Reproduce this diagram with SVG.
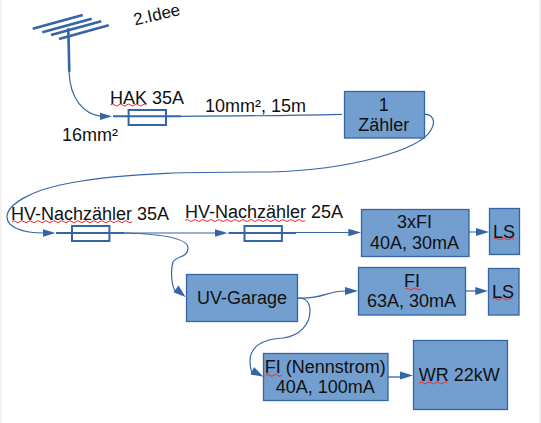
<svg xmlns="http://www.w3.org/2000/svg" width="541" height="423" viewBox="0 0 541 423">
<style>
.b{fill:#729fcf;stroke:#3465a4;stroke-width:1.3}
.t{font-family:"Liberation Sans",Arial,sans-serif;font-size:18px;fill:#111;text-anchor:middle}
.l{font-family:"Liberation Sans",Arial,sans-serif;font-size:18px;fill:#111}
.c{fill:none;stroke:#3465a4;stroke-width:1.2}
.f{fill:none;stroke:#3465a4;stroke-width:2}
.a{fill:none;stroke:#3465a4;stroke-width:2.6}
.s{fill:none;stroke:#ef2929;stroke-width:1}
.h{fill:#3465a4}
</style>
<rect width="541" height="423" fill="#fff"/>
<rect x="0" y="0" width="1.500" height="423" fill="#eee"/>
<rect x="539" y="0" width="2" height="423" fill="#eee"/>
<g id="connectors">
<path class="c" d="M69,71C70,100 84,114 101,116.300"/>
<path class="h" d="M112,116.300L100,112.700V120Z"/>
<path class="c" d="M181,116.300C240,116 290,115.500 342,114.300"/>
<path class="c" d="M424.700,114.300C433,114 436,122 431,130C420,150 350,170 270,172C200,172 130,172 70,183C30,190 7,205 7,217C7,227 22,233 44,233"/>
<path class="h" d="M55.500,233L43,229.300V236.700Z"/>
<path class="c" d="M124,233H216"/>
<path class="h" d="M227.500,233L215,229.300V236.700Z"/>
<path class="c" d="M124,233C160,234 188,238 188,248C188,258 176,256 173,262C170,272 172,288 176,292"/>
<path class="h" d="M185.500,297L173.500,292.200L178.500,285.500Z"/>
<path class="c" d="M296,232.500H349"/>
<path class="h" d="M361,232.500L348.300,228.800V236.200Z"/>
<path class="c" d="M469,232H477" style="stroke:#729fcf;stroke-width:1.600"/>
<path class="h" d="M489,232L476,228V236Z"/>
<path class="c" d="M298,298C325,299 325,291 346,291"/>
<path class="h" d="M358,291L345,287V295Z"/>
<path class="c" d="M466,291H476"/>
<path class="h" d="M488,291L475.300,287V295Z"/>
<path class="c" d="M298,298C307,298 310,304 310,311C310,324 300,336 283,338C262,339 250,347 250,361C250,366 251,370 252,373"/>
<path class="h" d="M263.500,376.800L250.500,374.500L254,367Z"/>
<path class="c" d="M388,377H401" style="stroke:#729fcf;stroke-width:2"/>
<path class="h" d="M413,375.500L400,371.500V379.500Z"/>
</g>
<g id="antenna">
<path class="a" d="M32.700,28.700L82.700,15M42.300,32.300L91.700,18.700M51,35L101.300,21.300M59,39L108.700,25.300"/>
<path class="a" d="M68.300,28.300L69.300,71.700"/>
<text transform="translate(135,25.500) rotate(-13)" font-family="Liberation Sans, Arial, sans-serif" font-size="17" fill="#111">2.Idee</text>
</g>
<g id="hak">
<path class="f" d="M113,116.300H181"/>
<rect x="128.600" y="110" width="37.400" height="15" class="f"/>
<text class="l" x="110" y="104">HAK 35A</text>
<path class="s" d="M110.500,105q2,-2 4,0t4,0t4,0t4,0t4,0t4,0t4,0t4,0t4,0"/>
</g>
<g id="labels">
<text class="l" x="62" y="141">16mm²</text>
<text class="l" x="205" y="112">10mm², 15m</text>
</g>
<g id="zaehler">
<rect class="b" x="344.500" y="91.500" width="80" height="46.500"/>
<text class="t" x="383.700" y="111">1</text>
<text class="t" x="383.700" y="131">Zähler</text>
</g>
<g id="hv35">
<path class="f" d="M56,233H124"/>
<rect x="72" y="226" width="37.400" height="15" class="f"/>
<text class="l" x="11" y="220">HV-Nachzähler 35A</text>
<path class="s" d="M12,221.700q2,-2 4,0t4,0t4,0t4,0t4,0t4,0t4,0t4,0t4,0t4,0t4,0t4,0t4,0t4,0t4,0t4,0t4,0t4,0t4,0t4,0t4,0t4,0t4,0t4,0t4,0t4,0t4,0t4,0t4,0t4,0"/>
</g>
<g id="hv25">
<path class="f" d="M228.500,233H296"/>
<rect x="244.500" y="226" width="37.400" height="15" class="f"/>
<text class="l" x="185" y="218">HV-Nachzähler 25A</text>
<path class="s" d="M185,220.500q2,-2 4,0t4,0t4,0t4,0t4,0t4,0t4,0t4,0t4,0t4,0t4,0t4,0t4,0t4,0t4,0t4,0t4,0t4,0t4,0t4,0t4,0t4,0t4,0t4,0t4,0t4,0t4,0t4,0t4,0t4,0"/>
</g>
<g id="fi3">
<rect class="b" x="361.500" y="209.500" width="107.500" height="47"/>
<text class="t" x="414.500" y="228">3xFI</text>
<text class="t" x="414.500" y="249">40A, 30mA</text>
</g>
<g id="ls1">
<rect class="b" x="489.500" y="208.500" width="30" height="46"/>
<text class="t" x="504" y="237.500">LS</text>
<path class="s" d="M494,239q2,-2 4,0t4,0t4,0t4,0t4,0"/>
</g>
<g id="fi63">
<rect class="b" x="358.500" y="267.500" width="107" height="47.500"/>
<text class="t" x="412" y="286.500">FI</text>
<path class="s" d="M405,289q2,-2 4,0t4,0t4,0t4,0"/>
<text class="t" x="411.500" y="307">63A, 30mA</text>
</g>
<g id="ls2">
<rect class="b" x="488.500" y="268.500" width="30.500" height="46.500"/>
<text class="t" x="503" y="297.500">LS</text>
<path class="s" d="M492.500,299q2,-2 4,0t4,0t4,0t4,0t4,0"/>
</g>
<g id="uv">
<rect class="b" x="186.500" y="274.500" width="111" height="47"/>
<text class="t" x="242" y="303.500">UV-Garage</text>
</g>
<g id="fin">
<rect class="b" x="263.500" y="353.500" width="124.500" height="47"/>
<text class="t" x="325.300" y="373.300">FI (Nennstrom)</text>
<path class="s" d="M265.700,375.300q2,-2 4,0t4,0t4,0t4,0"/>
<text class="t" x="325.300" y="393.300">40A, 100mA</text>
</g>
<g id="wr">
<rect class="b" x="413.500" y="340.500" width="94" height="69"/>
<text class="t" x="459.300" y="381">WR 22kW</text>
<path class="s" d="M419.300,383q2,-2 4,0t4,0t4,0t4,0t4,0t4,0t4,0"/>
</g>
</svg>
